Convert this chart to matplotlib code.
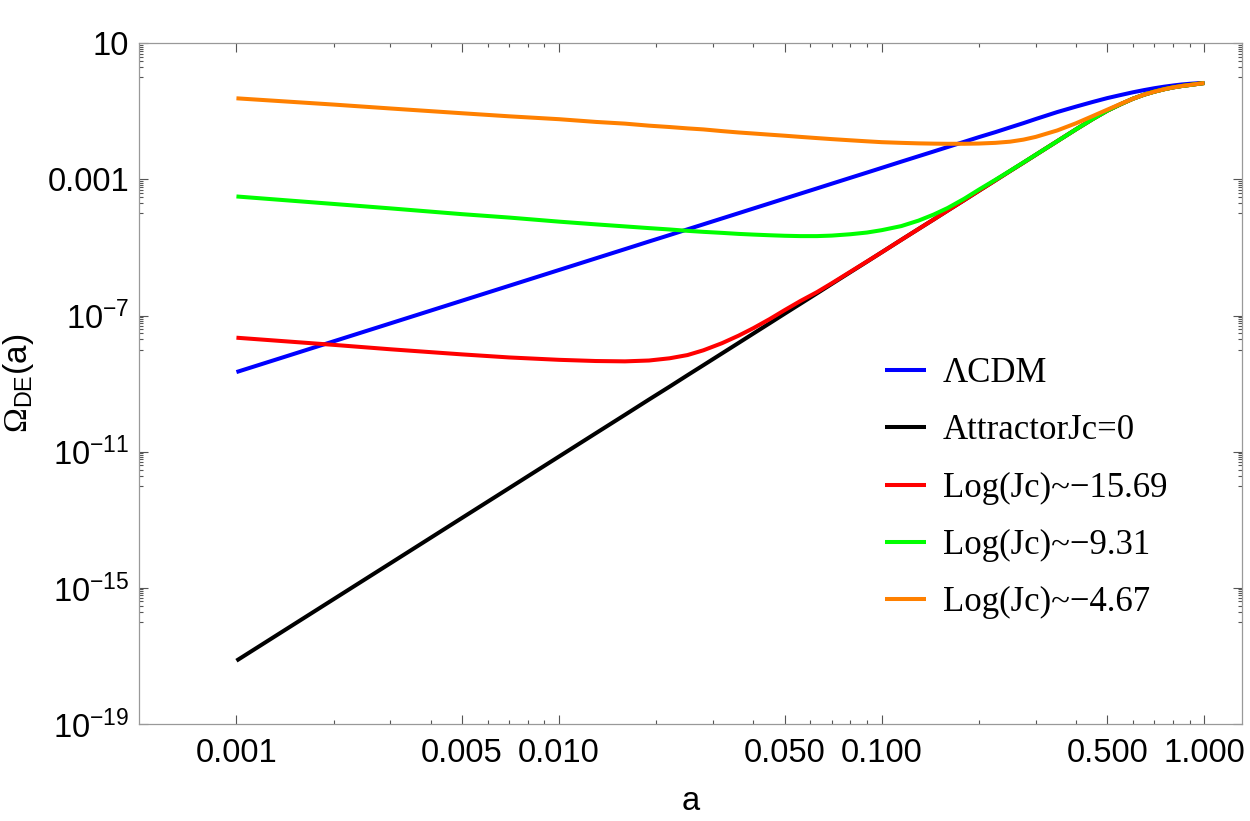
import numpy as np
import matplotlib
matplotlib.use("Agg")
import matplotlib.pyplot as plt
from matplotlib.ticker import FixedLocator, FixedFormatter, NullFormatter

plt.rcParams['font.family'] = ['Liberation Sans', 'DejaVu Sans']
plt.rcParams['mathtext.fontset'] = 'custom'
plt.rcParams['mathtext.rm'] = 'Liberation Sans'
plt.rcParams['mathtext.it'] = 'Liberation Sans'
plt.rcParams['mathtext.cal'] = 'Liberation Serif'
plt.rcParams['mathtext.default'] = 'regular'

# scale factor a
a_vals = [0.001, 0.002, 0.003, 0.005, 0.007, 0.01, 0.013, 0.016, 0.019, 0.022,
          0.025, 0.028, 0.032, 0.036, 0.04, 0.045, 0.05, 0.056, 0.063, 0.07,
          0.08, 0.09, 0.1, 0.115, 0.13, 0.145, 0.16, 0.18, 0.2, 0.225,
          0.25, 0.275, 0.3, 0.35, 0.4, 0.45, 0.5, 0.55, 0.6, 0.65,
          0.7, 0.75, 0.8, 0.85, 0.9, 0.95, 1.0]

# log10 of Omega_DE(a)
lcdm_log = [-8.66, -7.757, -7.229, -6.563, -6.125, -5.66, -5.318, -5.048, -4.823, -4.634,
            -4.466, -4.319, -4.145, -3.992, -3.854, -3.701, -3.563, -3.416, -3.263, -3.125,
            -2.951, -2.798, -2.66, -2.477, -2.318, -2.177, -2.048, -1.895, -1.757, -1.61,
            -1.47, -1.345, -1.225, -1.02, -0.86, -0.725, -0.61, -0.52, -0.44, -0.375,
            -0.32, -0.275, -0.24, -0.21, -0.19, -0.175, -0.165]
attractor_log = [-17.14, -15.334, -14.278, -12.946, -12.07, -11.14, -10.456, -9.916, -9.466, -9.088,
                 -8.752, -8.458, -8.11, -7.804, -7.528, -7.222, -6.946, -6.652, -6.346, -6.07,
                 -5.722, -5.416, -5.14, -4.774, -4.456, -4.174, -3.916, -3.61, -3.334, -3.028,
                 -2.752, -2.506, -2.278, -1.876, -1.528, -1.23, -0.98, -0.79, -0.63, -0.51,
                 -0.42, -0.35, -0.295, -0.255, -0.225, -0.195, -0.167]
jc1569_log = [-7.65, -7.86, -7.99, -8.14, -8.23, -8.30, -8.335, -8.345, -8.32, -8.255,
              -8.16, -8.02, -7.81, -7.59, -7.37, -7.10, -6.84, -6.57, -6.31, -6.05,
              -5.71, -5.41, -5.14, -4.774, -4.456, -4.174, -3.916, -3.61, -3.334, -3.028,
              -2.752, -2.506, -2.278, -1.876, -1.528, -1.23, -0.98, -0.79, -0.63, -0.51,
              -0.42, -0.35, -0.295, -0.255, -0.225, -0.195, -0.167]
jc931_log = [-3.50, -3.72, -3.85, -4.02, -4.12, -4.24, -4.32, -4.38, -4.43, -4.47,
             -4.51, -4.54, -4.57, -4.60, -4.62, -4.64, -4.655, -4.665, -4.665, -4.65,
             -4.61, -4.56, -4.49, -4.37, -4.21, -4.03, -3.84, -3.57, -3.30, -3.01,
             -2.745, -2.50, -2.275, -1.876, -1.528, -1.23, -0.98, -0.79, -0.63, -0.51,
             -0.42, -0.35, -0.295, -0.255, -0.225, -0.195, -0.167]
jc467_log = [-0.616, -0.80, -0.915, -1.055, -1.145, -1.23, -1.31, -1.36, -1.42, -1.46,
             -1.50, -1.53, -1.58, -1.62, -1.65, -1.685, -1.715, -1.75, -1.785, -1.815,
             -1.85, -1.88, -1.905, -1.925, -1.94, -1.948, -1.952, -1.952, -1.945, -1.925,
             -1.89, -1.83, -1.75, -1.56, -1.35, -1.14, -0.95, -0.78, -0.63, -0.51,
             -0.42, -0.35, -0.295, -0.255, -0.225, -0.195, -0.167]

labels = ["\u039bCDM", "AttractorJc=0", "Log(Jc)~\u221215.69", "Log(Jc)~\u22129.31", "Log(Jc)~\u22124.67"]
colors = ["#0000ff", "#000000", "#ff0000", "#00ff00", "#ff8000"]
series = [lcdm_log, attractor_log, jc1569_log, jc931_log, jc467_log]

x_major = [0.001, 0.005, 0.01, 0.05, 0.1, 0.5, 1.0]
x_major_labels = ["0.001", "0.005", "0.010", "0.050", "0.100", "0.500", "1.000"]
y_major = [1e-19, 1e-15, 1e-11, 1e-7, 1e-3, 10]
y_major_labels = [r"$10^{-19}$", r"$10^{-15}$", r"$10^{-11}$", r"$10^{-7}$", "0.001", "10"]

fig = plt.figure(figsize=(12.5, 8.21), dpi=100)
ax = fig.add_axes([139/1250, 1 - 724/821, (1241.7-139)/1250, (724-43.3)/821])

a_arr = np.array(a_vals)
lines = []
for vals, col, lab in zip(series, colors, labels):
    ln, = ax.plot(a_arr, 10.0**np.array(vals), color=col, lw=2.9, label=lab,
                  solid_capstyle='butt', solid_joinstyle='round')
    lines.append(ln)

ax.set_xscale('log')
ax.set_yscale('log')
ax.set_xlim(10**-3.302, 10**0.1156)
ax.set_ylim(1e-19, 10)

# ticks
ax.xaxis.set_major_locator(FixedLocator(x_major))
ax.xaxis.set_major_formatter(FixedFormatter(x_major_labels))
xminor = [k*10.0**e for e in (-3, -2, -1) for k in (2, 3, 4, 6, 7, 8, 9)]
ax.xaxis.set_minor_locator(FixedLocator(xminor))
ax.xaxis.set_minor_formatter(NullFormatter())

ax.yaxis.set_major_locator(FixedLocator(y_major))
ax.yaxis.set_major_formatter(FixedFormatter(y_major_labels))
yminor = [k*10.0**(m-1) for m in (1, -3, -7, -11, -15) for k in range(1, 10)]
ax.yaxis.set_minor_locator(FixedLocator(yminor))
ax.yaxis.set_minor_formatter(NullFormatter())

ax.tick_params(which='both', direction='in', top=True, right=True, color='#555555', width=0.8)
ax.tick_params(which='major', length=6.5, labelsize=23.5, pad=10)
ax.tick_params(which='minor', length=3)
ax.tick_params(axis='y', which='major', pad=7)
for s in ax.spines.values():
    s.set_color('#999999')
    s.set_linewidth(0.9)

ax.set_xlabel('a', fontsize=23.5, labelpad=12)
ax.set_ylabel('$\\mathcal{\u03a9}_{DE}(a)$', fontsize=24, labelpad=8)

leg = ax.legend(handles=lines, loc='upper left', bbox_to_anchor=(0.6765, 0.539),
                frameon=False, prop={'family': 'Liberation Serif', 'size': 25},
                handlelength=1.18, handletextpad=0.49, labelspacing=0.70,
                borderpad=0, borderaxespad=0)

fig.savefig('out.png', dpi=100)
